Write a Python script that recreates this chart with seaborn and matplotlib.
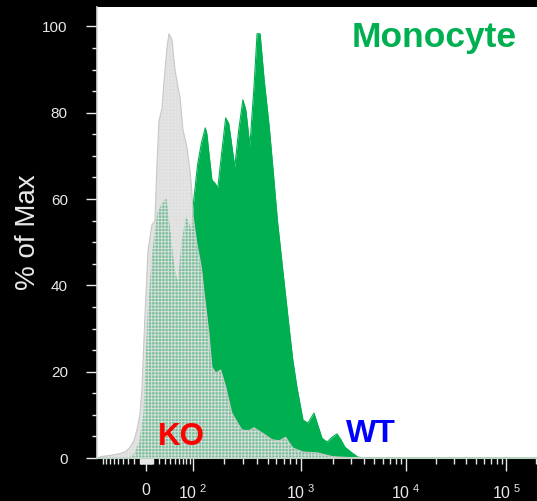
import numpy as np
import matplotlib
matplotlib.use("Agg")
import matplotlib.pyplot as plt
from matplotlib.ticker import FixedLocator, MultipleLocator
import seaborn as sns

# Fluorescence intensity (x) and % of Max (y) for each population
WT_X = [-26.5, -18, -10, -3.7, 2.6, 10.4, 18.5, 27.1, 32.5, 40.3, 48.5, 57.8, 68, 79.3,
        88.6, 94, 102.8, 112, 122, 133, 138, 144, 154, 164, 175, 190, 207, 221, 251, 273,
        298, 317, 345, 376, 401, 427, 465, 517, 563, 613, 682, 791, 844, 918, 1045, 1166,
        1329, 1452, 1585, 1770, 1973, 2200, 2403, 2624, 3060, 3490, 4070]
WT_Y = [0, 1, 4, 10, 33, 48, 57, 59, 60, 52, 44, 40, 50, 55.6,
        54, 52, 60, 68, 73, 76.5, 75, 70.7, 64.4, 63.7, 62.6, 70.7, 78.8, 77.5, 67.4, 76,
        83, 80.6, 72.3, 86, 98.3, 98.3, 87.6, 76.7, 66, 55, 44, 29, 22.7, 16.5, 8.8, 8.1,
        10.4, 7.5, 4.6, 3.7, 4.8, 5.6, 4.2, 2.5, 1.2, 0.2, 0]

KO_X = [-100, -69, -46, -34, -26.5, -19.7, -14.8, -10, -6.8, -2.1, 2.6, 8.8, 13.6, 16.9,
        20.2, 25.3, 28.9, 34.4, 38.3, 44.3, 50.8, 57.8, 62.7, 70.4, 81.7, 91.1, 97.5, 101,
        109.6, 122, 130, 144, 154, 168, 186, 207, 236, 291, 338, 376, 446, 551, 640, 727,
        844, 1045, 1420, 2017, 3410]
KO_Y = [0.3, 0.6, 1.0, 1.5, 2.5, 4, 6.5, 10, 16, 33, 48, 54, 55, 68,
        78, 81, 87, 95, 98.3, 97, 90, 86, 83.6, 76, 72, 66.7, 61.4, 56,
        50, 44, 38, 29, 21, 19.7, 20.4, 16.5, 10.4, 6.5, 6.3, 7, 5.8, 4.2, 4, 4.8,
        2.3, 1.4, 1.2, 0.3, 0]

X_TICKS = [0, 1e2, 1e3, 1e4, 1e5]
X_TICK_LABELS = ["0", r"$\mathregular{10^{\ 2}}$", r"$\mathregular{10^{\ 3}}$",
                 r"$\mathregular{10^{\ 4}}$", r"$\mathregular{10^{\ 5}}$"]
Y_TICKS = [0, 20, 40, 60, 80, 100]

# Biexponential-style axis: arcsinh core, piecewise matched to the decade spacing
_ANCHOR_V = np.array([-1e3, -1e2, 0, 1e2, 1e3, 1e4, 1e5, 1e6])
_ANCHOR_U = np.arcsinh(_ANCHOR_V / 50.0)
_ANCHOR_P = np.array([-1.428, -0.428, 0.0, 0.428, 1.428, 2.398, 3.324, 4.244])


def biex_forward(x):
    x = np.asarray(x, dtype=float)
    return np.interp(np.arcsinh(x / 50.0), _ANCHOR_U, _ANCHOR_P)


def biex_inverse(p):
    p = np.asarray(p, dtype=float)
    return 50.0 * np.sinh(np.interp(p, _ANCHOR_P, _ANCHOR_U))


sns.set_theme(style="white")
plt.rcParams["font.family"] = ["Liberation Sans", "DejaVu Sans"]
plt.rcParams["mathtext.fontset"] = "custom"
plt.rcParams["mathtext.rm"] = "Liberation Sans"
plt.rcParams["hatch.linewidth"] = 0.7

fig = plt.figure(figsize=(5.37, 5.01), dpi=100, facecolor="black")
ax = fig.add_axes([97 / 537, 1 - 458 / 501, 1 - 97 / 537, 451 / 501])
ax.set_facecolor("white")
ax.set_xscale("function", functions=(biex_forward, biex_inverse))

GREEN = "#00b050"

# WT: solid green histogram
ax.fill_between(WT_X, WT_Y, 0, color=GREEN, lw=0, zorder=2)
sns.lineplot(x=WT_X, y=WT_Y, ax=ax, color=GREEN, lw=0.8, zorder=2)

# KO: translucent grey histogram with grid hatch, drawn over WT
ax.fill_between(KO_X, KO_Y, 0, facecolor=(0.79, 0.79, 0.79, 0.6),
                edgecolor=(0.9, 0.9, 0.9, 0.85), hatch="+++++", lw=0, zorder=3)
sns.lineplot(x=KO_X, y=KO_Y, ax=ax, color="#c8c8c8", lw=0.8, zorder=3)

ax.set_xlim(-107, 2.03e5)
ax.set_ylim(0, 104.5)

ax.xaxis.set_major_locator(FixedLocator(X_TICKS))
ax.set_xticklabels(X_TICK_LABELS)
minor = []
for d in (1, 10):
    minor += [s * m * d for m in range(1, 10) for s in (-1, 1)]
for d in (1e2, 1e3, 1e4):
    minor += [m * d for m in range(2, 10)]
minor += [2e5]
ax.xaxis.set_minor_locator(FixedLocator(sorted(minor)))

ax.yaxis.set_major_locator(FixedLocator(Y_TICKS))
ax.yaxis.set_minor_locator(MultipleLocator(5))

TICK_C = "#e8e8e8"
ax.tick_params(axis="both", which="major", direction="out", color=TICK_C,
               labelcolor=TICK_C, width=1)
ax.tick_params(axis="x", which="major", length=9, pad=9, labelsize=11.5, bottom=True)
ax.tick_params(axis="x", which="minor", length=4, width=1, color=TICK_C, bottom=True)
ax.tick_params(axis="y", which="major", length=8, pad=13, labelsize=11, left=True)
ax.tick_params(axis="y", which="minor", length=3.5, width=1, color=TICK_C, left=True)

for side in ("top", "right"):
    ax.spines[side].set_visible(False)
ax.spines["left"].set_color("#d8d8d8")
ax.spines["bottom"].set_color("#b9d3c2")
ax.spines["left"].set_linewidth(1.2)
ax.spines["bottom"].set_linewidth(1.5)

ax.set_xlabel("")
ax.set_ylabel("% of Max", color=TICK_C, fontsize=20, labelpad=1)

ax.text(0.767, 0.911, "Monocyte", transform=ax.transAxes, ha="center", va="baseline",
        color=GREEN, fontsize=25.5, fontweight="bold", zorder=5)
ax.text(0.191, 0.029, "KO", transform=ax.transAxes, ha="center", va="baseline",
        color="#ff0000", fontsize=22.5, fontweight="bold", zorder=5)
ax.text(0.623, 0.036, "WT", transform=ax.transAxes, ha="center", va="baseline",
        color="#0000ff", fontsize=23, fontweight="bold", zorder=5)

fig.savefig("out.png", dpi=100, facecolor="black")
